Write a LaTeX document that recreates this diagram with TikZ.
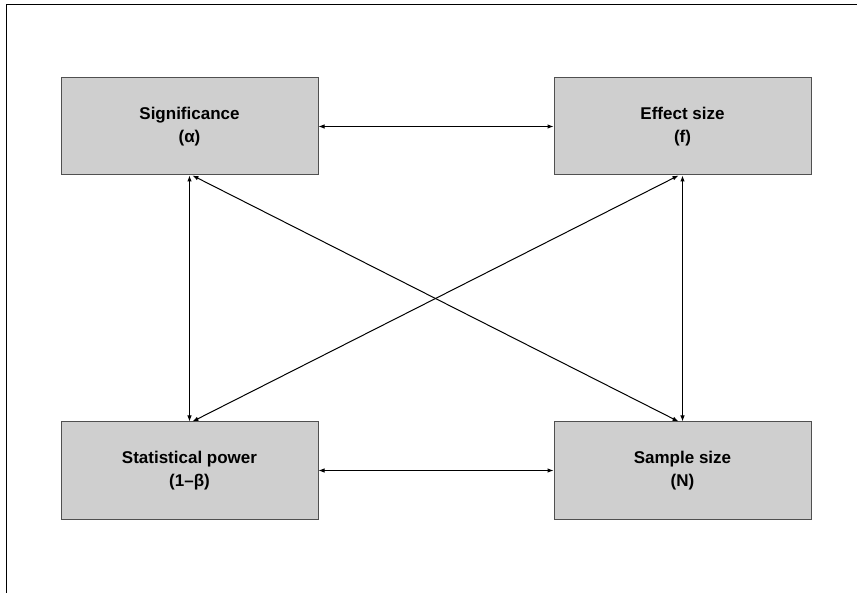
\documentclass[tikz,border=0pt]{standalone}
\usepackage{fontspec}
\setmainfont{Liberation Sans}
\usetikzlibrary{arrows.meta}
\definecolor{boxfill}{RGB}{207,207,207}
\definecolor{boxedge}{RGB}{80,80,80}
\tikzset{
  frame/.style={draw=black, line width=1.3pt},
  factor/.style={draw=boxedge, fill=boxfill, line width=1pt,
    minimum width=257pt, minimum height=97pt, inner sep=0pt,
    align=center, font=\fontsize{17}{23}\selectfont\bfseries},
  link/.style={draw=black, line width=1pt,
    {Latex[length=6pt,width=4.5pt]}-{Latex[length=6pt,width=4.5pt]}}
}
\begin{document}
\begin{tikzpicture}[x=1pt,y=-1pt]
  \useasboundingbox (0,0) rectangle (857,593);
  % open frame: top and left edges only
  \draw[frame] (857,4.5) -- (6.5,4.5) -- (6.5,593);

  % the four quantities of a power analysis
  \node[factor] (sig)  at (189.5,126.5) {Significance\\(α)};
  \node[factor] (eff)  at (682.5,126.5) {Effect size\\(f)};
  \node[factor] (pow)  at (189.5,470.5) {Statistical power\\(1–β)};
  \node[factor] (samp) at (682.5,470.5) {Sample size\\(N)};

  % each quantity depends on the other three
  \draw[link] (sig.east) -- (eff.west);
  \draw[link] (pow.east) -- (samp.west);
  \draw[link] (sig.south) -- (pow.north);
  \draw[link] (eff.south) -- (samp.north);
  \draw[link] ([xshift=3pt]sig.south) -- ([xshift=-4pt]samp.north);
  \draw[link] ([xshift=-4pt]eff.south) -- ([xshift=3pt]pow.north);
\end{tikzpicture}
\end{document}
